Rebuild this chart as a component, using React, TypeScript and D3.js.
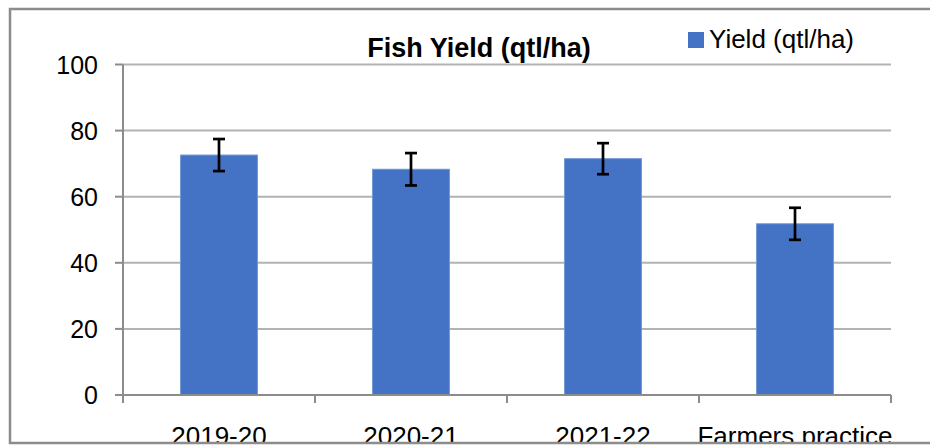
import React from "react";
import * as d3 from "d3";

const categories = ["2019-20", "2020-21", "2021-22", "Farmers practice"];
const yieldValues = [72.6, 68.3, 71.5, 51.8];
const yieldErrors = [4.85, 4.9, 4.7, 4.85];
const yTicks = [0, 20, 40, 60, 80, 100];
const title = "Fish Yield (qtl/ha)";
const seriesName = "Yield (qtl/ha)";

const W = 930;
const H = 446;
const FONT = "'Liberation Sans', Arial, Helvetica, sans-serif";

export default function App() {
  const x = d3.scaleBand<string>().domain(categories).range([123, 891]).paddingInner(0).paddingOuter(0);
  const y = d3.scaleLinear().domain([0, 100]).range([395, 64.5]);
  const bw = x.bandwidth() * 0.4;
  const edges = categories.map((c) => x(c) as number).concat([x.range()[1]]);

  return (
    <div style={{ position: "absolute", left: 0, top: 0 }}>
      <svg width={W} height={H} style={{ display: "block", background: "#fff" }}>
        <defs>
          <clipPath id="clipBottom">
            <rect x={0} y={0} width={W} height={442} />
          </clipPath>
        </defs>
        {/* gridlines */}
        {yTicks.filter((t) => t > 0).map((t) => (
          <line key={"g" + t} x1={123} x2={891} y1={y(t)} y2={y(t)} stroke="#b3b3b3" strokeWidth={2} />
        ))}
        {/* bars */}
        {categories.map((c, i) => {
          const cx = (x(c) as number) + x.bandwidth() / 2;
          return (
            <rect
              key={"b" + c}
              x={cx - bw / 2}
              y={y(yieldValues[i])}
              width={bw}
              height={y(0) - y(yieldValues[i])}
              fill="#4472C4"
              stroke="#6f93d6"
              strokeWidth={1}
            />
          );
        })}
        {/* error bars */}
        {categories.map((c, i) => {
          const cx = (x(c) as number) + x.bandwidth() / 2;
          const hi = y(yieldValues[i] + yieldErrors[i]);
          const lo = y(yieldValues[i] - yieldErrors[i]);
          return (
            <g key={"e" + c} stroke="#000" strokeWidth={2.7}>
              <line x1={cx} x2={cx} y1={hi} y2={lo} />
              <line x1={cx - 6} x2={cx + 6} y1={hi} y2={hi} />
              <line x1={cx - 6} x2={cx + 6} y1={lo} y2={lo} />
            </g>
          );
        })}
        {/* axes */}
        <line x1={123} x2={123} y1={y(100)} y2={403} stroke="#8c8c8c" strokeWidth={2} />
        <line x1={115} x2={891} y1={y(0)} y2={y(0)} stroke="#8c8c8c" strokeWidth={2} />
        {yTicks.map((t) => (
          <line key={"yt" + t} x1={115} x2={123} y1={y(t)} y2={y(t)} stroke="#8c8c8c" strokeWidth={2} />
        ))}
        {edges.map((e, i) => (
          <line key={"xt" + i} x1={e} x2={e} y1={y(0)} y2={403} stroke="#8c8c8c" strokeWidth={2} />
        ))}
        {/* y labels */}
        {yTicks.map((t) => (
          <text
            key={"yl" + t}
            x={98}
            y={y(t)}
            dy="0.36em"
            textAnchor="end"
            fontFamily={FONT}
            fontSize={25}
            fill="#000"
          >
            {t}
          </text>
        ))}
        {/* x labels */}
        <g clipPath="url(#clipBottom)">
          {categories.map((c) => (
            <text
              key={"xl" + c}
              x={(x(c) as number) + x.bandwidth() / 2}
              y={445}
              textAnchor="middle"
              fontFamily={FONT}
              fontSize={26}
              fill="#000"
            >
              {c}
            </text>
          ))}
        </g>
        {/* title */}
        <text x={479} y={57} textAnchor="middle" fontFamily={FONT} fontSize={27} fontWeight="bold" fill="#000">
          {title}
        </text>
        {/* legend */}
        <rect x={688} y={32} width={16} height={16} fill="#4472C4" />
        <text x={709} y={48} fontFamily={FONT} fontSize={26} fill="#000">
          {seriesName}
        </text>
        {/* frame */}
        <path d={`M${W + 5},9 L10,9 L10,443 L${W + 5},443`} fill="none" stroke="#8c8c8c" strokeWidth={2.5} />
      </svg>
    </div>
  );
}
